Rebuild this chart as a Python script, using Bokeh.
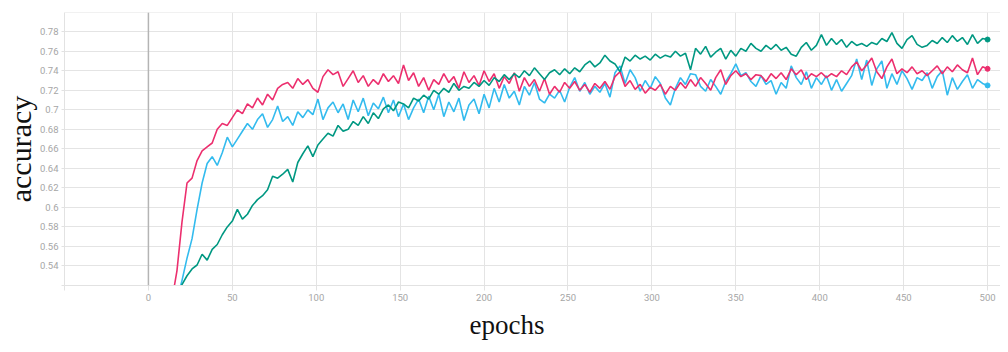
from bokeh.plotting import figure
from bokeh.models import Range1d, FixedTicker, Span, Title, CustomJSTickFormatter
from bokeh.embed import file_html
from bokeh.resources import INLINE

# ---- data ----
epochs = list(range(14, 501, 3))

pink = [
    0.505, 0.535, 0.585, 0.625, 0.630, 0.648, 0.658, 0.662, 0.666, 0.680,
    0.686, 0.684, 0.692, 0.700, 0.696, 0.706, 0.702, 0.712, 0.705, 0.716,
    0.710, 0.722, 0.726, 0.728, 0.722, 0.732, 0.726, 0.731, 0.722, 0.718,
    0.734, 0.741, 0.736, 0.739, 0.724, 0.732, 0.740, 0.728, 0.735, 0.724,
    0.731, 0.726, 0.737, 0.729, 0.735, 0.727, 0.746, 0.730, 0.738, 0.724,
    0.733, 0.720, 0.731, 0.726, 0.737, 0.728, 0.734, 0.722, 0.739, 0.728,
    0.735, 0.725, 0.740, 0.729, 0.737, 0.722, 0.734, 0.727, 0.738, 0.719,
    0.733, 0.724, 0.731, 0.719, 0.732, 0.716, 0.724, 0.718, 0.728, 0.722,
    0.729, 0.720, 0.726, 0.718, 0.727, 0.722, 0.729, 0.721, 0.734, 0.739,
    0.724, 0.730, 0.721, 0.726, 0.717, 0.723, 0.720, 0.726, 0.716, 0.724,
    0.720, 0.728, 0.722, 0.731, 0.724, 0.733, 0.727, 0.720, 0.733, 0.741,
    0.726, 0.735, 0.740, 0.734, 0.737, 0.731, 0.736, 0.735, 0.729, 0.737,
    0.732, 0.738, 0.731, 0.742, 0.736, 0.741, 0.731, 0.737, 0.734, 0.738,
    0.733, 0.737, 0.734, 0.740, 0.736, 0.744, 0.749, 0.740, 0.746, 0.753,
    0.739, 0.732, 0.744, 0.752, 0.737, 0.742, 0.738, 0.744, 0.737, 0.740,
    0.735, 0.740, 0.745, 0.737, 0.744, 0.739, 0.746, 0.741, 0.738, 0.753,
    0.736, 0.744, 0.742,
]

blue = [
    0.500, 0.505, 0.525, 0.548, 0.568, 0.598, 0.625, 0.645, 0.652, 0.643,
    0.656, 0.672, 0.662, 0.670, 0.678, 0.686, 0.680, 0.690, 0.696, 0.682,
    0.690, 0.704, 0.688, 0.693, 0.684, 0.698, 0.692, 0.700, 0.695, 0.711,
    0.690, 0.702, 0.708, 0.697, 0.706, 0.690, 0.710, 0.698, 0.712, 0.694,
    0.707, 0.701, 0.713, 0.697, 0.710, 0.693, 0.706, 0.690, 0.702, 0.711,
    0.697, 0.714, 0.700, 0.716, 0.693, 0.708, 0.698, 0.712, 0.689, 0.705,
    0.711, 0.696, 0.716, 0.702, 0.722, 0.708, 0.726, 0.712, 0.719, 0.705,
    0.724, 0.715, 0.728, 0.711, 0.707, 0.716, 0.712, 0.720, 0.708, 0.723,
    0.733, 0.719, 0.728, 0.716, 0.724, 0.718, 0.727, 0.713, 0.738, 0.745,
    0.727, 0.741, 0.733, 0.719, 0.730, 0.722, 0.734, 0.727, 0.712, 0.705,
    0.722, 0.733, 0.726, 0.737, 0.736, 0.724, 0.719, 0.731, 0.724, 0.716,
    0.729, 0.737, 0.747, 0.735, 0.738, 0.729, 0.724, 0.735, 0.726, 0.730,
    0.716, 0.728, 0.722, 0.745, 0.733, 0.726, 0.739, 0.722, 0.733, 0.726,
    0.735, 0.720, 0.731, 0.719, 0.727, 0.735, 0.752, 0.731, 0.751, 0.725,
    0.742, 0.750, 0.722, 0.737, 0.726, 0.740, 0.732, 0.721, 0.733, 0.730,
    0.738, 0.722, 0.734, 0.740, 0.715, 0.733, 0.721, 0.729, 0.736, 0.722,
    0.731, 0.727, 0.725,
]

teal = [
    0.495, 0.508, 0.521, 0.530, 0.537, 0.541, 0.552, 0.546, 0.557, 0.562,
    0.572, 0.580, 0.586, 0.598, 0.588, 0.593, 0.602, 0.608, 0.612, 0.618,
    0.632, 0.630, 0.634, 0.639, 0.626, 0.646, 0.655, 0.663, 0.652, 0.664,
    0.670, 0.676, 0.673, 0.684, 0.678, 0.680, 0.688, 0.684, 0.693, 0.686,
    0.697, 0.691, 0.701, 0.705, 0.699, 0.708, 0.706, 0.702, 0.712, 0.709,
    0.715, 0.711, 0.720, 0.716, 0.722, 0.718, 0.727, 0.720, 0.724, 0.722,
    0.728, 0.724, 0.730, 0.725, 0.733, 0.729, 0.736, 0.731, 0.737, 0.733,
    0.740, 0.735, 0.743, 0.737, 0.731, 0.738, 0.741, 0.736, 0.742, 0.737,
    0.743, 0.739, 0.746, 0.750, 0.744, 0.748, 0.756, 0.750, 0.747, 0.739,
    0.754, 0.750, 0.756, 0.752, 0.755, 0.751, 0.757, 0.753, 0.756, 0.754,
    0.760, 0.755, 0.758, 0.741, 0.763, 0.757, 0.765, 0.754, 0.759, 0.763,
    0.752, 0.761, 0.755, 0.763, 0.760, 0.768, 0.763, 0.760, 0.766, 0.762,
    0.767, 0.761, 0.764, 0.757, 0.755, 0.764, 0.769, 0.761, 0.766, 0.777,
    0.766, 0.773, 0.767, 0.772, 0.764, 0.770, 0.766, 0.768, 0.765, 0.769,
    0.767, 0.773, 0.770, 0.779, 0.768, 0.763, 0.772, 0.776, 0.767, 0.764,
    0.766, 0.771, 0.768, 0.774, 0.769, 0.776, 0.770, 0.774, 0.767, 0.777,
    0.768, 0.773, 0.772,
]

x_ticks = [-50, 0, 50, 100, 150, 200, 250, 300, 350, 400, 450, 500]
y_ticks = [0.52, 0.54, 0.56, 0.58, 0.60, 0.62, 0.64, 0.66, 0.68, 0.70,
           0.72, 0.74, 0.76, 0.78, 0.80]

PINK = "#EC2F6E"
BLUE = "#33BBEE"
TEAL = "#009882"

p = figure(width=1000, height=344, output_backend="svg", toolbar_location=None,
           x_range=Range1d(-50, 507.7), y_range=Range1d(0.52, 0.7997),
           min_border_left=63, min_border_right=0, min_border_top=12,
           min_border_bottom=57)
p.outline_line_color = None
p.background_fill_color = "white"
p.border_fill_color = "white"

p.xaxis.ticker = FixedTicker(ticks=x_ticks)
p.yaxis.ticker = FixedTicker(ticks=y_ticks)
p.xaxis.formatter = CustomJSTickFormatter(code="return tick < 0 ? '' : tick.toFixed(0);")
p.yaxis.formatter = CustomJSTickFormatter(
    code="if (tick < 0.53 || tick > 0.79) { return ''; } return String(Math.round(tick*100)/100);")

for ax in (p.xaxis[0], p.yaxis[0]):
    ax.axis_line_color = "#e2e2e2"
    ax.major_tick_line_color = "#e2e2e2"
    ax.minor_tick_line_color = None
    ax.major_tick_in = 0
    ax.major_label_text_color = "#a6a6a6"
    ax.major_label_text_font = "Roboto"
    ax.major_label_text_font_size = "9.5px"
p.xaxis.major_tick_out = 5
p.xaxis.major_label_standoff = 3
p.yaxis.major_tick_out = 3
p.yaxis.major_label_standoff = 3

p.yaxis.axis_label = "accuracy"
p.yaxis.axis_label_text_font = "Liberation Serif"
p.yaxis.axis_label_text_font_size = "30px"
p.yaxis.axis_label_text_font_style = "normal"
p.yaxis.axis_label_text_color = "#111111"
p.yaxis.axis_label_standoff = 0

p.add_layout(Title(text="epochs", align="left", offset=405, standoff=9,
                   text_font="Liberation Serif", text_font_size="27px",
                   text_font_style="normal", text_color="#111111"), "below")

p.grid.grid_line_color = "#e4e4e4"
p.grid.grid_line_width = 1

p.add_layout(Span(location=0, dimension="height", line_color="#b4b4b4", line_width=1.5))

for series, color in ((blue, BLUE), (pink, PINK), (teal, TEAL)):
    p.line(epochs, series, line_color=color, line_width=1.6)
    p.scatter([epochs[-1]], [series[-1]], size=5, fill_color=color, line_color=color)

open("out.html", "w").write(file_html(p, INLINE))
